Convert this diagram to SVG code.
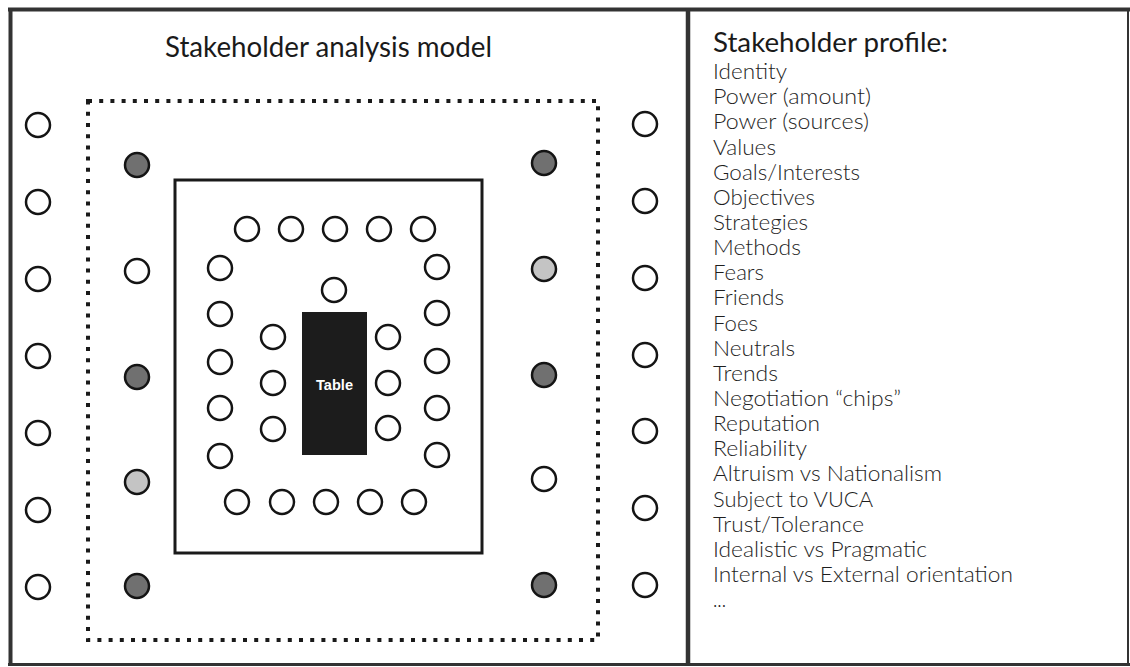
<svg xmlns="http://www.w3.org/2000/svg" width="1130" height="667" viewBox="0 0 1130 667">
<style>
.s{stroke:#141414;stroke-width:2.5}
.w{fill:#ffffff}
.d{fill:#707070}
.l{fill:#c4c4c4}
.frame{stroke:#333;fill:none}
.title{font-family:Lato,"Liberation Sans",sans-serif;fill:#1a1a1a}
.item{font-family:Lato,"Liberation Sans",sans-serif;font-size:21px;font-weight:300;fill:#1e1e1e}
</style>
<rect x="0" y="0" width="1130" height="667" fill="#ffffff"/>
<g id="frame">
<line class="frame" x1="8" y1="9.5" x2="1130" y2="9.5" stroke-width="4"/>
<line class="frame" x1="10.5" y1="8" x2="10.5" y2="666" stroke-width="4"/>
<line class="frame" x1="8" y1="664.5" x2="1130" y2="664.5" stroke-width="3"/>
<line class="frame" x1="1128" y1="8" x2="1128" y2="666" stroke-width="2"/>
<line class="frame" x1="688" y1="8" x2="688" y2="666" stroke-width="4.5"/>
</g>
<g id="model-title">
<text class="title" x="165" y="57" font-size="29" textLength="327" lengthAdjust="spacingAndGlyphs">Stakeholder analysis model</text>
</g>
<g id="outer-zone">
<rect x="88" y="101" width="510" height="539" fill="none" stroke="#1a1a1a" stroke-width="4" stroke-dasharray="4 7.2"/>
</g>
<g id="inner-zone">
<rect x="175" y="180" width="307" height="373" fill="none" stroke="#1a1a1a" stroke-width="3"/>
</g>
<g id="table">
<rect x="302" y="312" width="65" height="143" fill="#1c1c1c"/>
<text x="334.5" y="390" text-anchor="middle" font-family="'Liberation Sans',Arial,sans-serif" font-weight="bold" font-size="15" fill="#ffffff" textLength="37" lengthAdjust="spacingAndGlyphs">Table</text>
</g>
<g id="outer-left-stakeholders">
<circle class="s w" cx="38" cy="125" r="12"/>
<circle class="s w" cx="38" cy="202" r="12"/>
<circle class="s w" cx="38" cy="279" r="12"/>
<circle class="s w" cx="38" cy="356" r="12"/>
<circle class="s w" cx="38" cy="433" r="12"/>
<circle class="s w" cx="38" cy="510" r="12"/>
<circle class="s w" cx="38" cy="587" r="12"/>
</g>
<g id="outer-right-stakeholders">
<circle class="s w" cx="645" cy="124" r="12"/>
<circle class="s w" cx="645" cy="201" r="12"/>
<circle class="s w" cx="645" cy="278" r="12"/>
<circle class="s w" cx="645" cy="355" r="12"/>
<circle class="s w" cx="645" cy="431" r="12"/>
<circle class="s w" cx="645" cy="508" r="12"/>
<circle class="s w" cx="645" cy="585" r="12"/>
</g>
<g id="middle-left-stakeholders">
<circle class="s d" cx="137" cy="165" r="12"/>
<circle class="s w" cx="137" cy="271" r="12"/>
<circle class="s d" cx="137" cy="377" r="12"/>
<circle class="s l" cx="137" cy="482" r="12"/>
<circle class="s d" cx="137" cy="586" r="12"/>
</g>
<g id="middle-right-stakeholders">
<circle class="s d" cx="544" cy="163" r="12"/>
<circle class="s l" cx="544" cy="269" r="12"/>
<circle class="s d" cx="544" cy="375" r="12"/>
<circle class="s w" cx="544" cy="479" r="12"/>
<circle class="s d" cx="544" cy="585" r="12"/>
</g>
<g id="inner-ring-top">
<circle class="s w" cx="247" cy="229" r="12"/>
<circle class="s w" cx="291" cy="229" r="12"/>
<circle class="s w" cx="335" cy="229" r="12"/>
<circle class="s w" cx="379" cy="229" r="12"/>
<circle class="s w" cx="423" cy="229" r="12"/>
</g>
<g id="inner-ring-left">
<circle class="s w" cx="220" cy="268" r="12"/>
<circle class="s w" cx="220" cy="314" r="12"/>
<circle class="s w" cx="220" cy="362" r="12"/>
<circle class="s w" cx="220" cy="408" r="12"/>
<circle class="s w" cx="220" cy="456" r="12"/>
</g>
<g id="inner-ring-right">
<circle class="s w" cx="437" cy="267" r="12"/>
<circle class="s w" cx="437" cy="313" r="12"/>
<circle class="s w" cx="437" cy="361" r="12"/>
<circle class="s w" cx="437" cy="408" r="12"/>
<circle class="s w" cx="437" cy="455" r="12"/>
</g>
<g id="inner-ring-bottom">
<circle class="s w" cx="237" cy="502" r="12"/>
<circle class="s w" cx="282" cy="502" r="12"/>
<circle class="s w" cx="326" cy="502" r="12"/>
<circle class="s w" cx="370" cy="502" r="12"/>
<circle class="s w" cx="414" cy="502" r="12"/>
</g>
<g id="table-seats">
<circle class="s w" cx="334" cy="290" r="12"/>
<circle class="s w" cx="273" cy="337" r="12"/>
<circle class="s w" cx="273" cy="383" r="12"/>
<circle class="s w" cx="273" cy="429" r="12"/>
<circle class="s w" cx="388" cy="337" r="12"/>
<circle class="s w" cx="388" cy="383" r="12"/>
<circle class="s w" cx="388" cy="428" r="12"/>
</g>
<g id="profile">
<text class="title" x="713" y="52" font-size="26" textLength="235" lengthAdjust="spacingAndGlyphs">Stakeholder profile:</text>
<text class="item" x="713" y="79" textLength="74" lengthAdjust="spacingAndGlyphs">Identity</text>
<text class="item" x="713" y="104.2" textLength="158" lengthAdjust="spacingAndGlyphs">Power (amount)</text>
<text class="item" x="713" y="129.3" textLength="156" lengthAdjust="spacingAndGlyphs">Power (sources)</text>
<text class="item" x="713" y="154.5" textLength="63" lengthAdjust="spacingAndGlyphs">Values</text>
<text class="item" x="713" y="179.6" textLength="147" lengthAdjust="spacingAndGlyphs">Goals/Interests</text>
<text class="item" x="713" y="204.8" textLength="102" lengthAdjust="spacingAndGlyphs">Objectives</text>
<text class="item" x="713" y="229.9" textLength="95" lengthAdjust="spacingAndGlyphs">Strategies</text>
<text class="item" x="713" y="255.1" textLength="88" lengthAdjust="spacingAndGlyphs">Methods</text>
<text class="item" x="713" y="280.2" textLength="51" lengthAdjust="spacingAndGlyphs">Fears</text>
<text class="item" x="713" y="305.4" textLength="71" lengthAdjust="spacingAndGlyphs">Friends</text>
<text class="item" x="713" y="330.5" textLength="45" lengthAdjust="spacingAndGlyphs">Foes</text>
<text class="item" x="713" y="355.7" textLength="82" lengthAdjust="spacingAndGlyphs">Neutrals</text>
<text class="item" x="713" y="380.8" textLength="65" lengthAdjust="spacingAndGlyphs">Trends</text>
<text class="item" x="713" y="406" textLength="188" lengthAdjust="spacingAndGlyphs">Negotiation “chips”</text>
<text class="item" x="713" y="431.1" textLength="107" lengthAdjust="spacingAndGlyphs">Reputation</text>
<text class="item" x="713" y="456.3" textLength="94" lengthAdjust="spacingAndGlyphs">Reliability</text>
<text class="item" x="713" y="481.4" textLength="229" lengthAdjust="spacingAndGlyphs">Altruism vs Nationalism</text>
<text class="item" x="713" y="506.6" textLength="160" lengthAdjust="spacingAndGlyphs">Subject to VUCA</text>
<text class="item" x="713" y="531.7" textLength="151" lengthAdjust="spacingAndGlyphs">Trust/Tolerance</text>
<text class="item" x="713" y="556.9" textLength="214" lengthAdjust="spacingAndGlyphs">Idealistic vs Pragmatic</text>
<text class="item" x="713" y="582" textLength="300" lengthAdjust="spacingAndGlyphs">Internal vs External orientation</text>
<text class="item" x="713" y="607" textLength="13" lengthAdjust="spacingAndGlyphs" font-size="14">...</text>
</g>
</svg>
